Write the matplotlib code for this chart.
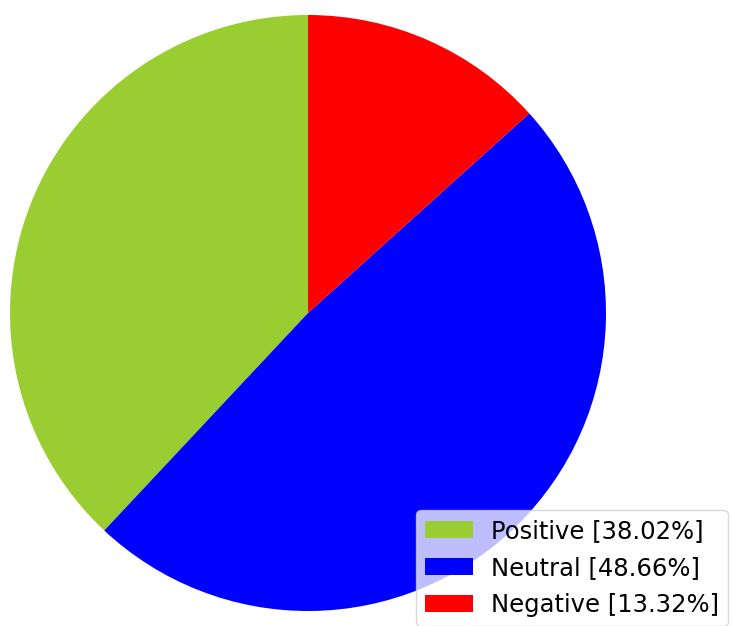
import matplotlib.pyplot as plt

## Sentiment shares ##
labels = ["Positive", "Neutral", "Negative"]
shares = [38.02, 48.66, 13.32]
colors = ["yellowgreen", "blue", "red"]

legend_labels = []
for lab, val in zip(labels, shares):
    legend_labels.append("%s [%.2f%%]" % (lab, val))

fig = plt.figure(figsize=(7.33, 6.26), dpi=100)
ax = fig.add_axes([10/733, 15/626, 596/733, 596/626])
wedges, _ = ax.pie(shares, colors=colors, startangle=90, radius=1)
ax.set_xlim(-1, 1)
ax.set_ylim(-1, 1)
ax.set_aspect("equal")

fig.legend(wedges, legend_labels, loc="lower left",
           bbox_to_anchor=(416/733, 0.0), borderaxespad=0.0,
           fontsize=17.5, handlelength=2.0, handleheight=0.7,
           labelspacing=0.55, borderpad=0.35, handletextpad=0.75,
           framealpha=0.75)

fig.savefig("out.png", dpi=100)
